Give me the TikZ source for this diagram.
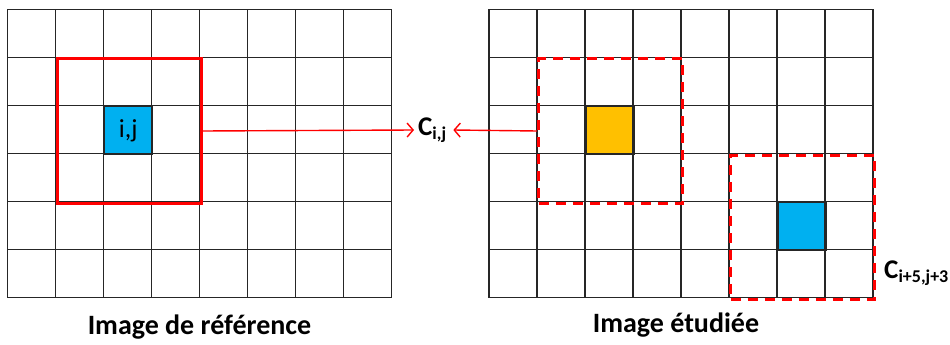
\documentclass[tikz,border=0pt]{standalone}
\usepackage{fontspec}
\setmainfont{Carlito}
\usetikzlibrary{arrows.meta,positioning}
\definecolor{cellblue}{HTML}{00B0F0}
\definecolor{cellorange}{HTML}{FFC000}
\newcommand{\subtxt}[1]{\raisebox{-0.3ex}{\fontsize{18}{18}\selectfont #1}}
\tikzset{
  gridln/.style={line width=1.6pt, black!85},
  cell/.style={draw=black!85, line width=1.6pt, minimum size=48pt, inner sep=0pt,
               anchor=north west, font=\fontsize{26}{26}\selectfont},
  win/.style={draw=red, line width=3pt, minimum size=144pt, inner sep=0pt, anchor=north west},
  dwin/.style={win, dash pattern=on 10pt off 7pt},
  sig/.style={-{Straight Barb[length=6pt,width=14pt]}, red, line width=1.4pt},
  lbl/.style={font=\bfseries\fontsize{27}{27}\selectfont, inner sep=0pt},
  ttl/.style={font=\bfseries\fontsize{28}{28}\selectfont, inner sep=0pt},
}

\begin{document}
\begin{tikzpicture}[x=1pt, y=-1pt]
  \useasboundingbox (0,0) rectangle (950,345);
  % coloured cells
  \node[cell, fill=cellblue] (pref) at (103.5,105.5) {i,j};
  \node[cell, fill=cellorange] (pa) at (585,105.5) {};
  \node[cell, fill=cellblue] (pb) at (777,201.5) {};
  % the two grids
  \foreach \ox/\nm in {7.5/ref, 489/etu} {
    \foreach \c in {0,...,8}
      \draw[gridln] (\ox+48*\c,9.5) -- (\ox+48*\c,297.5);
    \foreach \r in {0,...,6}
      \draw[gridln] (\ox,9.5+48*\r) -- (\ox+384,9.5+48*\r);
  }
  % windows
  \node[win] (wref) at (55.5,57.5) {};
  \node[dwin] (wa) at (537,57.5) {};
  \node[dwin] (wb) at (729,153.5) {};
  \node[lbl, anchor=west] (cij) at (418,130) {C\subtxt{i,j}};
  \node[lbl, anchor=west] (cshift) at (884,273) {C\subtxt{i+5,j+3}};
  \draw[sig] (wref.east) -- ([xshift=-4pt]cij.west);
  \draw[sig] (wa.west) -- ([xshift=7pt]cij.east);
  % titles
  \node[ttl] (tref) at (199.5,327) {Image de référence};
  \node[ttl] (tetu) at (676,325) {Image étudiée};
\end{tikzpicture}
\end{document}
